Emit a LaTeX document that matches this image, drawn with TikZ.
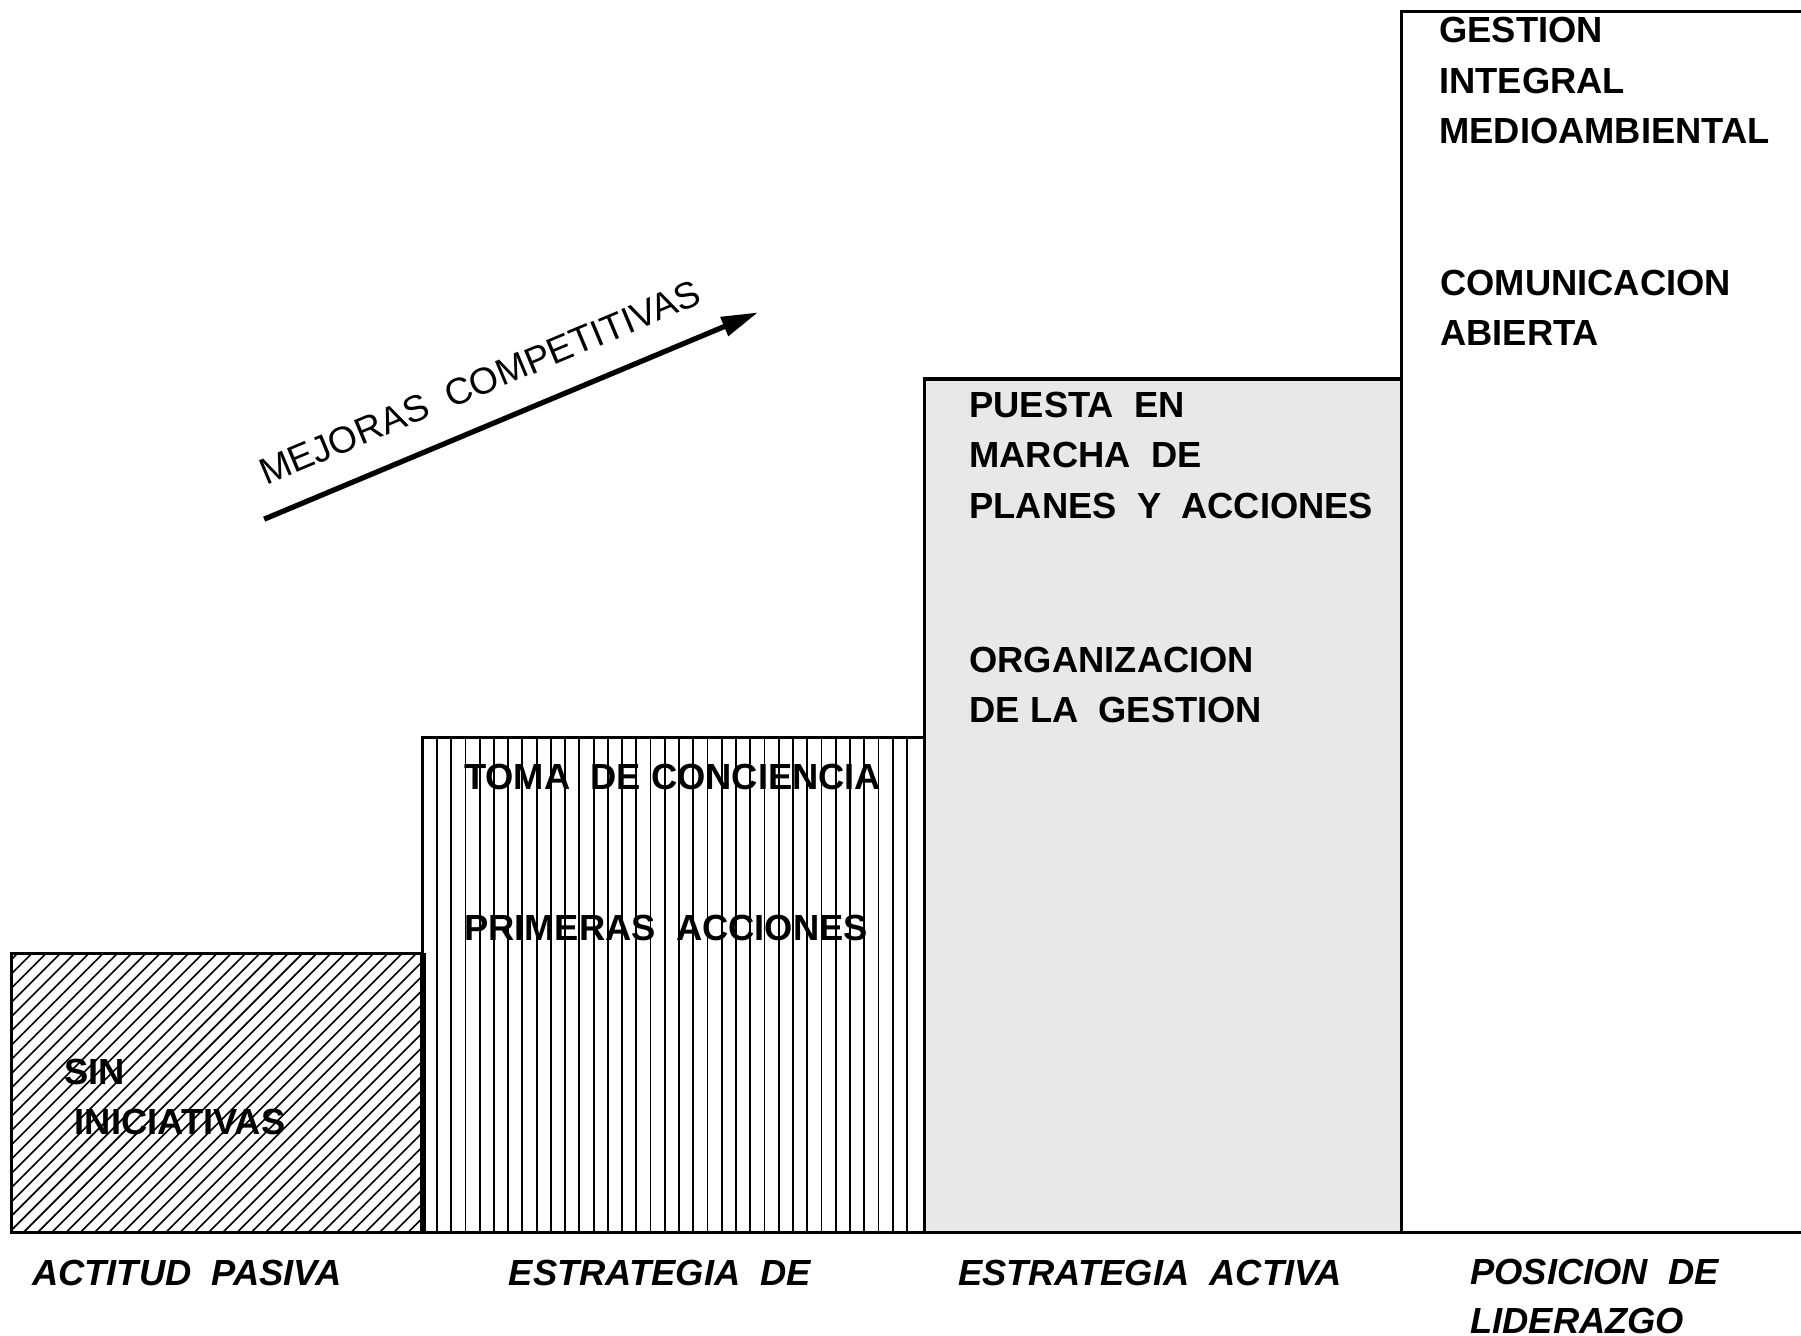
\documentclass[tikz,border=0pt]{standalone}
\usepackage{fontspec}
\setmainfont{Liberation Sans}
\usetikzlibrary{arrows.meta}

\begin{document}
\begin{tikzpicture}[semithick,
    txt/.style={font=\bfseries\fontsize{9}{12.5}\selectfont, align=left, anchor=north west, inner sep=0pt},
    etapa/.style={font=\bfseries\itshape\fontsize{9}{12.2}\selectfont, align=left, anchor=north west, inner sep=0pt},
    caja/.style={line width=0.8pt}]
  \useasboundingbox (0,0) rectangle (15.68,11.63);

  % actitud pasiva
  \begin{scope}
    \clip (0.10,0.90) rectangle (3.68,3.33);
    \foreach \x in {-2.40,-2.276,...,3.80}
      \draw[line width=0.4pt] (\x,0.90) -- ++(2.43,2.43);
  \end{scope}
  \draw[caja] (0.10,0.90) rectangle (3.68,3.33);
  \draw[line width=1.4pt] (3.68,0.90) -- (3.68,3.33);

  % estrategia de ...
  \foreach \x in {3.804,3.928,...,8.0}
    \draw[line width=0.45pt] (\x,0.90) -- (\x,5.21);
  \draw[caja] (3.68,0.90) rectangle (8.05,5.21);

  % estrategia activa
  \fill[black!9] (8.05,0.90) rectangle (12.20,8.33);
  \draw[caja] (8.05,0.90) rectangle (12.20,8.33);

  % posicion de liderazgo
  \draw[caja] (12.20,0.90) -- (12.20,11.53) -- (15.68,11.53);
  \draw[caja] (0.10,0.90) -- (15.68,0.90);

  % flecha
  \coordinate (mstart) at (2.30,7.11);
  \coordinate (mend) at (6.60,8.91);
  \draw[line width=1.3pt, -{Triangle[length=0.32cm,width=0.17cm]}] (mstart) -- (mend);
  \node[font=\fontsize{9.2}{11}\selectfont, rotate=22.7, inner sep=0pt] (mejoras) at (4.18,8.30)
    {MEJORAS\ \ COMPETITIVAS};

  % textos
  \node[txt] (sin) at (0.55,2.42) {SIN\\\hspace*{0.09cm}INICIATIVAS};
  \node[txt] (toma) at (4.03,4.99) {TOMA\ \ DE CONCIENCIA};
  \node[txt] (primeras) at (4.03,3.67) {PRIMERAS\ \ ACCIONES};
  \node[txt] (puesta) at (8.43,8.23) {PUESTA\ \ EN\\MARCHA\ \ DE\\PLANES\ \ Y\ \ ACCIONES};
  \node[txt] (organiz) at (8.43,6.01) {ORGANIZACION\\DE LA\ \ GESTION};
  \node[txt] (gestion) at (12.52,11.49) {GESTION\\INTEGRAL\\MEDIOAMBIENTAL};
  \node[txt] (comunic) at (12.53,9.29) {COMUNICACION\\ABIERTA};

  % etapas
  \node[etapa] (pasiva) at (0.27,0.67) {ACTITUD\ \ PASIVA};
  \node[etapa] (estrat) at (4.42,0.67) {ESTRATEGIA\ \ DE};
  \node[etapa] (activa) at (8.33,0.67) {ESTRATEGIA\ \ ACTIVA};
  \node[etapa] (lider) at (12.79,0.68) {POSICION\ \ DE\\LIDERAZGO};
\end{tikzpicture}
\end{document}
